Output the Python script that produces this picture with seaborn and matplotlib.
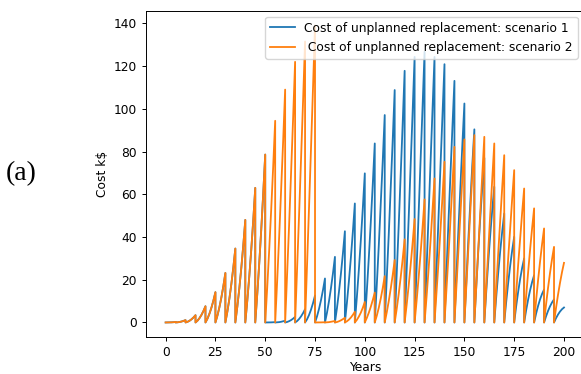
import matplotlib
matplotlib.use("Agg")
import matplotlib.pyplot as plt
import seaborn as sns
import pandas as pd

# ---------------- data ----------------
cycle_starts = [0, 5, 10, 15, 20, 25, 30, 35, 40, 45,
                50, 55, 60, 65, 70, 75, 80, 85, 90, 95,
                100, 105, 110, 115, 120, 125, 130, 135, 140, 145,
                150, 155, 160, 165, 170, 175, 180, 185, 190, 195]
offsets = [0, 1, 2, 3, 4, 5]

# yearly cost (k$) inside each 5-year cycle, scenario 1
scenario1_cycles = [
    [0, 0.01, 0.03, 0.07, 0.13, 0.2],
    [0, 0.08, 0.22, 0.44, 0.74, 1.1],
    [0, 0.31, 0.81, 1.49, 2.35, 3.4],
    [0, 0.85, 2.03, 3.55, 5.41, 7.6],
    [0, 1.78, 4.10, 6.94, 10.3, 14.2],
    [0, 3.2, 7.12, 11.76, 17.12, 23.2],
    [0, 5.1, 11.1, 18.02, 25.86, 34.6],
    [0, 7.46, 15.98, 25.58, 36.26, 48.0],
    [0, 10.2, 21.6, 34.2, 48.0, 63.0],
    [0, 13.22, 27.7, 43.42, 60.38, 78.6],
    [0, 0.01, 0.02, 0.05, 0.1, 0.15],
    [0, 0.06, 0.16, 0.32, 0.54, 0.8],
    [0, 0.23, 0.61, 1.13, 1.79, 2.6],
    [0, 0.66, 1.62, 2.86, 4.38, 6.2],
    [0, 1.5, 3.5, 6.02, 9.06, 12.6],
    [0, 2.84, 6.32, 10.44, 15.2, 20.6],
    [0, 4.52, 9.86, 16.0, 22.94, 30.7],
    [0, 6.62, 14.2, 22.74, 32.24, 42.7],
    [0, 9.06, 19.16, 30.3, 42.48, 55.7],
    [0, 11.7, 24.54, 38.5, 53.58, 69.8],
    [0, 14.52, 30.16, 46.92, 64.8, 83.8],
    [0, 17.29, 35.65, 55.07, 75.55, 97.1],
    [0, 19.89, 40.71, 62.47, 85.17, 108.8],
    [0, 22.12, 44.96, 68.52, 92.8, 117.8],
    [0, 23.82, 48.16, 73.02, 98.4, 124.3],
    [0, 24.96, 50.1, 75.44, 100.98, 126.7],
    [0, 25.24, 50.3, 75.16, 99.82, 124.3],
    [0, 24.72, 49.18, 73.36, 97.26, 120.9],
    [0, 23.87, 47.11, 69.73, 91.73, 113.1],
    [0, 22.2, 43.54, 64.04, 83.7, 102.5],
    [0, 20.02, 39.06, 57.14, 74.26, 90.4],
    [0, 17.54, 34.02, 49.42, 63.74, 77.0],
    [0, 14.86, 28.64, 41.34, 52.96, 63.5],
    [0, 12.2, 23.4, 33.6, 42.8, 51.0],
    [0, 9.76, 18.66, 26.68, 33.82, 40.1],
    [0, 7.62, 14.42, 20.42, 25.62, 30.0],
    [0, 5.68, 10.74, 15.16, 18.94, 22.1],
    [0, 4.15, 7.77, 10.85, 13.39, 15.4],
    [0, 2.9, 5.42, 7.58, 9.38, 10.8],
    [0, 2.01, 3.71, 5.11, 6.21, 7.0],
]

# yearly cost (k$) inside each 5-year cycle, scenario 2
scenario2_cycles = [
    [0, 0.01, 0.03, 0.07, 0.13, 0.2],
    [0, 0.08, 0.22, 0.44, 0.74, 1.1],
    [0, 0.31, 0.81, 1.49, 2.35, 3.4],
    [0, 0.85, 2.03, 3.55, 5.41, 7.6],
    [0, 1.78, 4.10, 6.94, 10.3, 14.2],
    [0, 3.2, 7.12, 11.76, 17.12, 23.2],
    [0, 5.1, 11.1, 18.02, 25.86, 34.6],
    [0, 7.46, 15.98, 25.58, 36.26, 48.0],
    [0, 10.2, 21.6, 34.2, 48.0, 63.0],
    [0, 13.22, 27.7, 43.42, 60.38, 78.6],
    [0, 16.35, 33.97, 52.85, 72.99, 94.4],
    [0, 19.46, 40.1, 61.9, 84.86, 109.0],
    [0, 22.32, 45.68, 70.08, 95.52, 122.0],
    [0, 24.78, 50.32, 76.62, 103.68, 131.5],
    [0, 26.6, 53.8, 81.6, 110.0, 139.0],
    [0, 0.0, 0.02, 0.04, 0.06, 0.1],
    [0, 0.05, 0.15, 0.31, 0.5, 0.7],
    [0, 0.2, 0.55, 1.0, 1.55, 2.2],
    [0, 0.55, 1.3, 2.3, 3.55, 5.0],
    [0, 1.2, 2.75, 4.6, 6.9, 9.6],
    [0, 2.1, 4.54, 7.34, 10.5, 14.0],
    [0, 3.11, 6.83, 11.17, 16.13, 21.7],
    [0, 4.64, 9.88, 15.72, 22.16, 29.2],
    [0, 6.23, 13.23, 21.01, 29.57, 38.9],
    [0, 8.16, 17.08, 26.76, 37.2, 48.4],
    [0, 10.05, 20.83, 32.35, 44.61, 57.6],
    [0, 11.91, 24.61, 38.09, 52.35, 67.4],
    [0, 13.79, 28.21, 43.25, 58.91, 75.2],
    [0, 15.32, 31.2, 47.64, 64.64, 82.2],
    [0, 16.58, 33.44, 50.58, 68.0, 85.7],
    [0, 17.22, 34.6, 52.14, 69.84, 87.7],
    [0, 17.51, 34.95, 52.33, 69.65, 86.9],
    [0, 17.26, 34.26, 51.02, 67.54, 83.8],
    [0, 16.54, 32.64, 48.3, 63.52, 78.3],
    [0, 15.38, 30.2, 44.46, 58.16, 71.3],
    [0, 13.92, 27.14, 39.68, 51.54, 62.7],
    [0, 12.17, 23.59, 34.27, 44.21, 53.4],
    [0, 10.3, 19.86, 28.66, 36.7, 44.0],
    [0, 8.46, 16.22, 23.3, 29.7, 35.4],
    [0, 6.78, 12.96, 18.54, 23.52, 27.9],
]

labels = ["Cost of unplanned replacement: scenario 1",
          " Cost of unplanned replacement: scenario 2"]
colors = ["#1f77b4", "#ff7f0e"]


def to_frame(cycles):
    rows = []
    for start, vals in zip(cycle_starts, cycles):
        for off, v in zip(offsets, vals):
            rows.append((start + off, v))
    return pd.DataFrame(rows, columns=["Years", "Cost"])


# ---------------- style ----------------
plt.rcParams.update({
    "font.size": 8.8,
    "axes.linewidth": 0.7,
    "xtick.major.size": 3.1,
    "ytick.major.size": 3.1,
    "xtick.major.width": 0.7,
    "ytick.major.width": 0.7,
    "xtick.major.pad": 3.1,
    "ytick.major.pad": 3.1,
    "axes.labelpad": 3.5,
    "font.family": ["DejaVu Sans"],
})

fig = plt.figure(figsize=(5.81, 3.74), dpi=100)
ax = fig.add_axes([0.2508, 0.0981, 0.7542, 0.8733])

for cycles, lab, col in zip([scenario1_cycles, scenario2_cycles], labels, colors):
    sns.lineplot(data=to_frame(cycles), x="Years", y="Cost", sort=False,
                 estimator=None, color=col, linewidth=1.3, label=lab, ax=ax)

ax.set_xlabel("Years", labelpad=1.5)
ax.set_ylabel("Cost k$")
ax.legend(loc="upper right", fontsize=8.8)

fig.text(0.0105, 0.519, "(a)", family=["Liberation Serif", "DejaVu Serif"],
         fontsize=20, va="baseline", ha="left")

fig.savefig("out.png", dpi=100)
